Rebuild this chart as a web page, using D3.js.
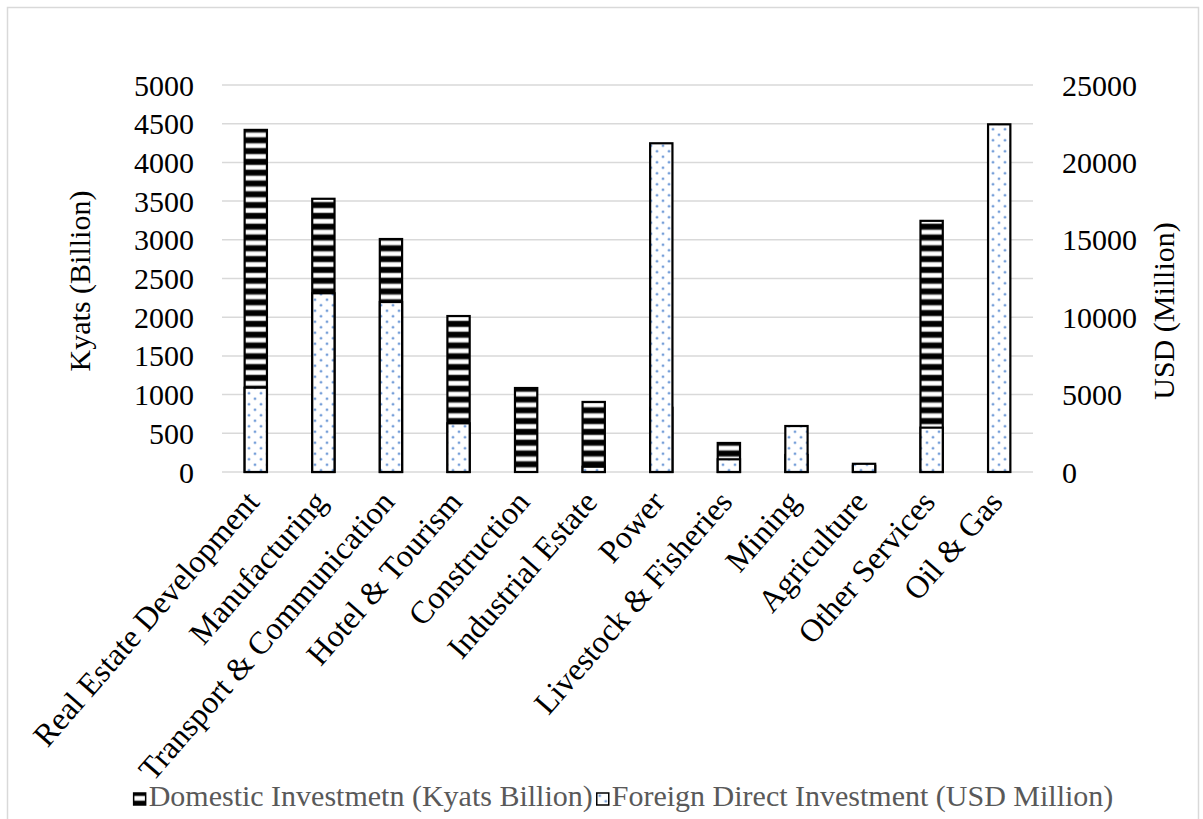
<!DOCTYPE html>
<html><head><meta charset="utf-8">
<script src="https://cdn.jsdelivr.net/npm/d3@7"></script>
<style>
body{margin:0;background:#fff}
svg{display:block}
text{font-family:"Liberation Serif","Times New Roman",serif}
</style></head>
<body><svg id="c" width="1203" height="819"></svg>
<script>
// ---- data ----
const categories = ["Real Estate Development","Manufacturing","Transport & Communication","Hotel & Tourism","Construction","Industrial Estate","Power","Livestock & Fisheries","Mining","Agriculture","Other Services","Oil & Gas"];
const domestic = [4420, 3530, 3010, 2015, 1085, 905, 830, 375, 220, 80, 3245, 0];     // Kyats Billion (left axis)
const fdi      = [5445, 11545, 10980, 3145, 0, 340, 21235, 820, 2970, 530, 2865, 22460]; // USD Million (right axis)
const leftTicks  = [0,500,1000,1500,2000,2500,3000,3500,4000,4500,5000];
const rightTicks = [0,5000,10000,15000,20000,25000];
const seriesNames = ["Domestic Investmetn (Kyats Billion)","Foreign Direct Investment (USD Million)"];
const leftTitle = "Kyats (Billion)", rightTitle = "USD (Million)";

// ---- layout ----
const W=1203,H=819;
const plot={l:222,r:1033,t:85,b:472};
const FS=30, LFS=32;
const svg=d3.select("#c");

svg.append("rect").attr("x",7.5).attr("y",7.5).attr("width",1191).attr("height",820)
  .attr("fill","#fff").attr("stroke","#d9d9d9").attr("stroke-width",1.5);

const defs=svg.append("defs");
const st=defs.append("pattern").attr("id","stripes").attr("patternUnits","userSpaceOnUse")
  .attr("width",8).attr("height",10.8);
st.append("rect").attr("width",8).attr("height",10.8).attr("fill","#000");
st.append("rect").attr("y",2.6).attr("width",8).attr("height",5.4).attr("fill","#9a9a9a");
st.append("rect").attr("y",3.4).attr("width",8).attr("height",3.8).attr("fill","#fff");

const dt=defs.append("pattern").attr("id","dots").attr("patternUnits","userSpaceOnUse")
  .attr("width",12).attr("height",11);
dt.append("rect").attr("width",12).attr("height",11).attr("fill","#fff");
[[3,2.75],[9,8.25]].forEach(p=>{
  dt.append("circle").attr("cx",p[0]).attr("cy",p[1]).attr("r",1.7).attr("fill","#c7d8f1");
  dt.append("circle").attr("cx",p[0]).attr("cy",p[1]).attr("r",1.0).attr("fill","#6f9ad6");
});

const x=d3.scaleBand().domain(categories).range([plot.l,plot.r]).padding(0);
const yL=d3.scaleLinear().domain([0,5000]).range([plot.b,plot.t]);
const yR=d3.scaleLinear().domain([0,25000]).range([plot.b,plot.t]);
const barW=x.bandwidth()*0.33;

// gridlines
svg.append("g").selectAll("line").data(leftTicks).join("line")
  .attr("x1",plot.l).attr("x2",plot.r).attr("y1",d=>yL(d)).attr("y2",d=>yL(d))
  .attr("stroke","#d9d9d9").attr("stroke-width",1.5);

// left tick labels
svg.append("g").selectAll("text").data(leftTicks).join("text")
  .attr("x",194).attr("y",d=>yL(d)).attr("text-anchor","end").attr("dy","0.35em")
  .attr("font-size",FS).attr("fill","#000").text(d=>d);
// right tick labels
svg.append("g").selectAll("text").data(rightTicks).join("text")
  .attr("x",1062).attr("y",d=>yR(d)).attr("text-anchor","start").attr("dy","0.35em")
  .attr("font-size",FS).attr("fill","#000").text(d=>d);

// axis titles
svg.append("text").attr("transform","translate(90,281) rotate(-90)")
  .attr("text-anchor","middle").attr("font-size",FS).attr("fill","#000").text(leftTitle);
svg.append("text").attr("transform","translate(1174,311) rotate(-90)")
  .attr("text-anchor","middle").attr("font-size",FS).attr("fill","#000").text(rightTitle);

// bars: domestic behind, FDI in front
svg.append("g").selectAll("rect").data(categories).join("rect")
  .attr("x",(c)=>x(c)+(x.bandwidth()-barW)/2)
  .attr("y",(c,i)=>yL(domestic[i]))
  .attr("width",barW)
  .attr("height",(c,i)=>yL(0)-yL(domestic[i]))
  .attr("fill","url(#stripes)").attr("stroke","#000").attr("stroke-width",2.2)
  .attr("display",(c,i)=>domestic[i]>0?null:"none");
svg.append("g").selectAll("rect").data(categories).join("rect")
  .attr("x",(c)=>x(c)+(x.bandwidth()-barW)/2)
  .attr("y",(c,i)=>yR(fdi[i]))
  .attr("width",barW)
  .attr("height",(c,i)=>yR(0)-yR(fdi[i]))
  .attr("fill","url(#dots)").attr("stroke","#000").attr("stroke-width",2.2)
  .attr("display",(c,i)=>fdi[i]>0?null:"none");

// category labels
svg.append("g").selectAll("text").data(categories).join("text")
  .attr("transform",c=>`translate(${x(c)+x.bandwidth()/2+5},503) rotate(-49)`)
  .attr("text-anchor","end").attr("font-size",LFS).attr("fill","#000").text(c=>c);

// legend
const lg=svg.append("g");
const items=lg.selectAll("g").data(seriesNames).join("g");
items.append("rect").attr("width",12).attr("height",12)
  .attr("fill",(d,i)=>i===0?"url(#stripes)":"url(#dots)").attr("stroke","#000").attr("stroke-width",1.5);
items.append("text").attr("x",15).attr("y",13).attr("font-size",FS).attr("fill","#595959").text(d=>d);
let cx=0; const pos=[];
items.each(function(){const w=this.getBBox().width;pos.push(cx);cx+=w+4;});
const total=cx-4;
items.attr("transform",(d,i)=>`translate(${(W-total)/2+22+pos[i]},793)`);
</script></body></html>
